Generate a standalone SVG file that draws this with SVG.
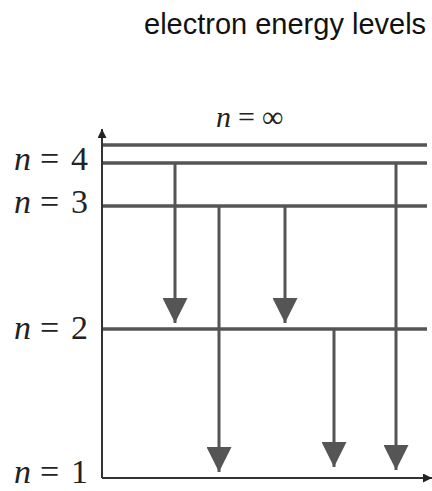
<svg xmlns="http://www.w3.org/2000/svg" width="432" height="491" viewBox="0 0 432 491">
  <style>
    .title { font-family: "Liberation Sans", Arial, sans-serif; font-size: 29px; fill: #111; }
    .lbl { font-family: "Liberation Serif", "Times New Roman", serif; font-size: 34px; fill: #222; }
    .inf { font-family: "Liberation Serif", "Times New Roman", serif; font-size: 30px; fill: #222; }
    .level { stroke: #555; stroke-width: 3.5; fill: none; }
    .axis { stroke: #333; stroke-width: 2; fill: none; }
    .trans { stroke: #555; stroke-width: 3; fill: none; marker-end: url(#head); }
  </style>
  <defs>
    <marker id="head" markerUnits="userSpaceOnUse" markerWidth="25" markerHeight="25" refX="25" refY="12.5" orient="auto" viewBox="0 0 25 25">
      <path d="M0,0 L25,12.5 L0,25 z" fill="#555"/>
    </marker>
    <marker id="ahead" markerUnits="userSpaceOnUse" markerWidth="9" markerHeight="9" refX="9" refY="4.5" orient="auto" viewBox="0 0 9 9">
      <path d="M0,0 L9,4.5 L0,9 z" fill="#222"/>
    </marker>
  </defs>

  <text class="title" x="144" y="34">electron energy levels</text>

  <g id="axes">
    <line class="axis" x1="102" y1="478" x2="102" y2="129" marker-end="url(#ahead)"/>
    <line class="axis" x1="102" y1="478" x2="432" y2="478" marker-end="url(#ahead)"/>
  </g>

  <g id="level-inf">
    <line class="level" x1="103" y1="145" x2="427" y2="145"/>
    <text class="inf" x="216" y="127" font-style="italic">n</text>
    <text class="inf" x="238" y="127">=</text>
    <text class="inf" x="262" y="127">∞</text>
  </g>
  <g id="level-4">
    <line class="level" x1="103" y1="163" x2="427" y2="163"/>
    <text class="lbl" y="170"><tspan x="14" font-style="italic">n</tspan><tspan x="40">=</tspan><tspan x="71">4</tspan></text>
  </g>
  <g id="level-3">
    <line class="level" x1="103" y1="206" x2="427" y2="206"/>
    <text class="lbl" y="213"><tspan x="14" font-style="italic">n</tspan><tspan x="40">=</tspan><tspan x="71">3</tspan></text>
  </g>
  <g id="level-2">
    <line class="level" x1="103" y1="329" x2="427" y2="329"/>
    <text class="lbl" y="339"><tspan x="14" font-style="italic">n</tspan><tspan x="40">=</tspan><tspan x="71">2</tspan></text>
  </g>
  <g id="level-1">
    <text class="lbl" y="483"><tspan x="14" font-style="italic">n</tspan><tspan x="40">=</tspan><tspan x="71">1</tspan></text>
  </g>

  <g id="connectors">
    <line class="trans" x1="175" y1="163" x2="175" y2="323"/>
    <line class="trans" x1="219" y1="206" x2="219" y2="472"/>
    <line class="trans" x1="285" y1="206" x2="285" y2="323"/>
    <line class="trans" x1="334" y1="329" x2="334" y2="467"/>
    <line class="trans" x1="396" y1="163" x2="396" y2="470"/>
  </g>
</svg>
